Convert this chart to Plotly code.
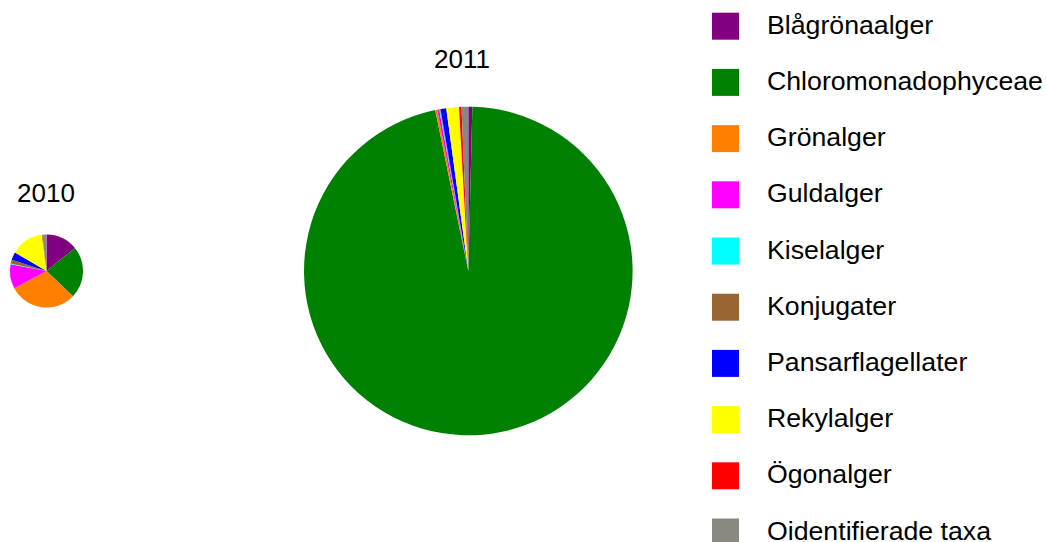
import plotly.graph_objects as go

# Phytoplankton biomass per group and year
groups = ["Blågrönaalger", "Chloromonadophyceae", "Grönalger", "Guldalger", "Kiselalger",
          "Konjugater", "Pansarflagellater", "Rekylalger", "Ögonalger", "Oidentifierade taxa"]
colors = ["#800080", "#008000", "#FF8000", "#FF00FF", "#00FFFF",
          "#996633", "#0000FF", "#FFFF00", "#FF0000", "#888880"]
years = ["2010", "2011"]
biomass_2010 = [0.071, 0.115, 0.151, 0.054, 0.0015, 0.0085, 0.0175, 0.073, 0.001, 0.009]
biomass_2011 = [0.040, 9.760, 0.020, 0.020, 0.008, 0.005, 0.057, 0.125, 0.025, 0.067]

W, H = 1046, 542
FONT = "Arial, Liberation Sans, sans-serif"


def px_x(v):
    return v / W


def px_y(v):
    return 1 - v / H


fig = go.Figure()

# pie placement: centre (px) and half-size of the domain box
pie_boxes = {
    "2010": (46.5, 271, 45),
    "2011": (468.3, 271, 164.3),
}
for year, values in zip(years, [biomass_2010, biomass_2011]):
    cx, cy, half = pie_boxes[year]
    fig.add_trace(go.Pie(
        labels=groups,
        values=values,
        marker=dict(colors=colors, line=dict(width=0)),
        sort=False,
        direction="clockwise",
        rotation=0,
        textinfo="none",
        hoverinfo="label+value+percent",
        scalegroup="years",
        showlegend=False,
        domain=dict(x=[px_x(cx - half), px_x(cx + half)],
                    y=[px_y(cy + half), px_y(cy - half)]),
    ))

# year captions above each pie
captions = {"2010": (45.5, 193), "2011": (462, 59)}
for year in years:
    x, y = captions[year]
    fig.add_annotation(x=px_x(x), y=px_y(y), xref="paper", yref="paper",
                       text=year, showarrow=False, xanchor="center", yanchor="middle",
                       font=dict(family=FONT, size=26, color="#000000"))

# legend: coloured squares with group names
for i, (name, col) in enumerate(zip(groups, colors)):
    top = 12.7 + 56.2 * i
    fig.add_shape(type="rect", xref="paper", yref="paper",
                  x0=px_x(712), x1=px_x(739), y0=px_y(top + 27), y1=px_y(top),
                  fillcolor=col, line=dict(width=0))
    fig.add_annotation(x=px_x(764.5), y=px_y(top + 12), xref="paper", yref="paper",
                       text=name, showarrow=False, xanchor="left", yanchor="middle",
                       font=dict(family=FONT, size=26.7, color="#000000"))

fig.update_layout(
    width=W, height=H,
    margin=dict(l=0, r=0, t=0, b=0),
    paper_bgcolor="white",
    plot_bgcolor="white",
)

fig.write_html("out.html")
